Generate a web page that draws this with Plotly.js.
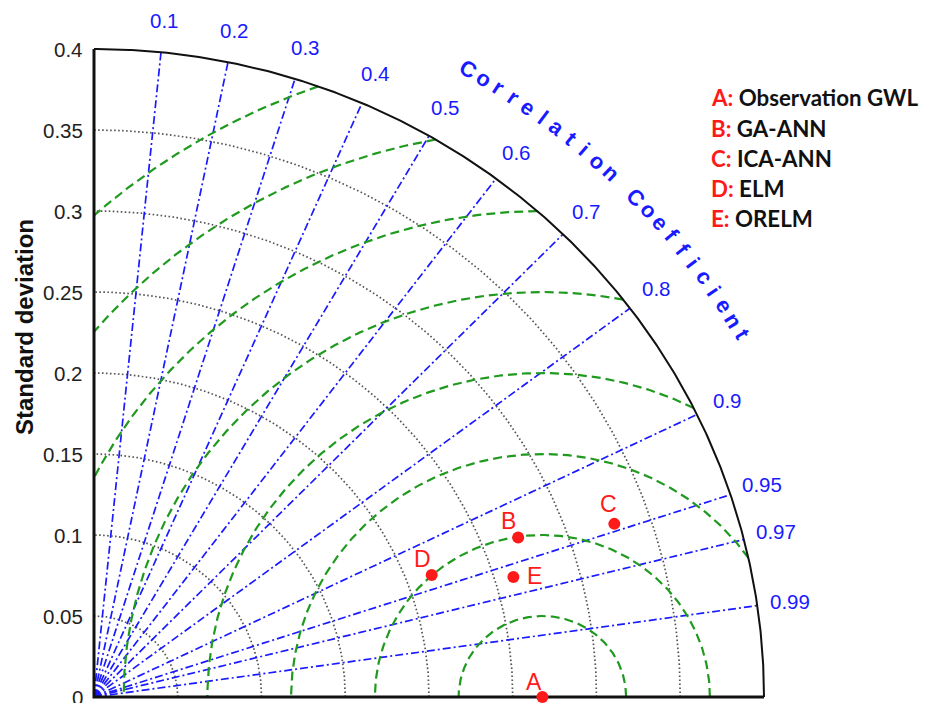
<!DOCTYPE html>
<html><head><meta charset="utf-8">
<script src="https://cdn.plot.ly/plotly-3.0.1.min.js"></script>
<style>html,body{margin:0;padding:0;background:#fff}#chart{width:931px;height:703px}</style>
</head><body><div id="chart"></div>
<script>
// ---------------- data ----------------
const pointLabels = ['A', 'B', 'C', 'D', 'E'];
const modelNames = ['Observation GWL', 'GA-ANN', 'ICA-ANN', 'ELM', 'ORELM'];
const stdDev = [0.2677, 0.2717, 0.3285, 0.2152, 0.2611];
const corrCoef = [1.0, 0.932, 0.9456, 0.9368, 0.9589];
const stdTicks = [0, 0.05, 0.1, 0.15, 0.2, 0.25, 0.3, 0.35, 0.4];
const stdTickText = ['0', '0.05', '0.1', '0.15', '0.2', '0.25', '0.3', '0.35', '0.4'];
const stdGrid = [0.05, 0.1, 0.15, 0.2, 0.25, 0.3, 0.35];
const rmsGrid = [0.05, 0.1, 0.15, 0.2, 0.25, 0.3, 0.35, 0.4];
const corrTicks = [0.1, 0.2, 0.3, 0.4, 0.5, 0.6, 0.7, 0.8, 0.9, 0.95, 0.97, 0.99];
const corrTickText = ['0.1', '0.2', '0.3', '0.4', '0.5', '0.6', '0.7', '0.8', '0.9', '0.95', '0.97', '0.99'];
const maxStd = 0.4;
const arcTitle = 'Correlation Coefficient';
const yTitle = 'Standard deviation';

// ---------------- geometry / style ----------------
const O = {x: 94, y: 697, sx: 1675, sy: 1620};   // origin pixel & px per unit
const M = {l: 70, r: 140, t: 20, b: 1};
const W = 931, H = 703;
const toX = px => (px - O.x) / O.sx;
const toY = py => (O.y - py) / O.sy;
const xr = [toX(M.l), toX(W - M.r)];
const yr = [toY(H - M.b), toY(M.t)];
const deg = Math.PI / 180;
const labelShift = {A: [-8, 15], B: [-10, 16], C: [-6, 20], D: [-9, 16], E: [21, 1]};
const BLUE = '#1a1aff', GREEN = '#1f9a1f', RED = '#ff1a1a';
const SANS = 'Liberation Sans, Arial, sans-serif';

// polar -> cartesian helpers
const px = (r, c) => r * c;
const py = (r, c) => r * Math.sqrt(Math.max(0, 1 - c * c));

const traces = [];

// std (dotted) arcs
(function () {
  const x = [], y = [];
  stdGrid.forEach(s => {
    for (let a = 0; a <= 90; a += 0.5) { x.push(s * Math.cos(a * deg)); y.push(s * Math.sin(a * deg)); }
    x.push(null); y.push(null);
  });
  traces.push({x, y, mode: 'lines', hoverinfo: 'skip',
    line: {color: '#555', width: 1.7, dash: '1.6px,2.4px'}});
})();

// correlation (dash-dot) rays
(function () {
  const x = [], y = [];
  corrTicks.forEach(c => { x.push(0, px(maxStd, c), null); y.push(0, py(maxStd, c), null); });
  traces.push({x, y, mode: 'lines', hoverinfo: 'skip',
    line: {color: BLUE, width: 1.7, dash: '8px,3px,2px,3px'}});
})();

// centered RMS (dashed) arcs around the observation
(function () {
  const a = stdDev[0];
  const x = [], y = [];
  rmsGrid.forEach(r => {
    let c0 = (maxStd * maxStd - a * a - r * r) / (2 * a * r);
    c0 = Math.max(-1, Math.min(1, c0));
    const t0 = Math.acos(c0);
    const t1 = Math.acos(Math.max(-1, -a / r));
    const n = 300;
    for (let i = 0; i <= n; i++) {
      const t = t0 + (t1 - t0) * i / n;
      x.push(a + r * Math.cos(t)); y.push(r * Math.sin(t));
    }
    x.push(null); y.push(null);
  });
  traces.push({x, y, mode: 'lines', hoverinfo: 'skip',
    line: {color: GREEN, width: 2.2, dash: '9px,5px'}});
})();

// outer arc
(function () {
  const x = [], y = [];
  for (let a = 0; a <= 90; a += 0.25) { x.push(maxStd * Math.cos(a * deg)); y.push(maxStd * Math.sin(a * deg)); }
  traces.push({x, y, mode: 'lines', hoverinfo: 'skip', line: {color: '#111', width: 2}});
})();

// axes lines
traces.push({x: [0, 0, maxStd], y: [maxStd, 0, 0], mode: 'lines', hoverinfo: 'skip',
  line: {color: '#111', width: 3}});

// model points
traces.push({
  x: stdDev.map((s, i) => px(s, corrCoef[i])),
  y: stdDev.map((s, i) => py(s, corrCoef[i])),
  mode: 'markers', cliponaxis: false, text: modelNames,
  marker: {color: RED, size: 12}
});

// ---------------- annotations ----------------
const ann = [];
const base = {showarrow: false, xref: 'x', yref: 'y'};

// point labels
pointLabels.forEach((L, i) => {
  ann.push(Object.assign({}, base, {
    x: px(stdDev[i], corrCoef[i]), y: py(stdDev[i], corrCoef[i]),
    text: L, xshift: labelShift[L][0], yshift: labelShift[L][1],
    font: {family: SANS, size: 23, color: RED}
  }));
});

// std tick labels
stdTicks.forEach((v, i) => {
  ann.push(Object.assign({}, base, {
    x: 0, y: v, text: stdTickText[i], xanchor: 'right', yanchor: 'middle', xshift: -9,
    font: {family: SANS, size: 20.5, color: '#222'}
  }));
});

// correlation tick labels
corrTicks.forEach((c, i) => {
  ann.push(Object.assign({}, base, {
    x: px(0.42, c), y: py(0.42, c), text: corrTickText[i],
    xanchor: 'center', yanchor: 'middle',
    font: {family: SANS, size: 20.5, color: BLUE}
  }));
});

// curved title
(function () {
  const chars = arcTitle.split('');
  const a0 = 60, a1 = 30, r = 0.447;
  chars.forEach((ch, i) => {
    if (ch === ' ') return;
    const phi = a0 - (a0 - a1) * i / (chars.length - 1);
    ann.push(Object.assign({}, base, {
      x: r * Math.cos(phi * deg), y: r * Math.sin(phi * deg), text: '<b>' + ch + '</b>',
      textangle: 90 - phi, xanchor: 'center', yanchor: 'middle',
      font: {family: SANS, size: 22, color: BLUE}
    }));
  });
})();

// y title
ann.push(Object.assign({}, base, {
  x: 0, y: toY(327), xshift: 24 - O.x, text: '<b>' + yTitle + '</b>', textangle: -90,
  xanchor: 'center', yanchor: 'middle',
  font: {family: SANS, size: 24, color: '#111'}
}));

// legend text
const legendY = [97, 128, 158, 188, 218];
pointLabels.forEach((L, i) => {
  ann.push(Object.assign({}, base, {
    x: toX(709), y: toY(legendY[i]), xanchor: 'left', yanchor: 'middle',
    text: '<b><span style="color:' + RED + '">' + L + ':</span> ' + modelNames[i] + '</b>',
    font: {family: 'Lato, Noto Sans, sans-serif', size: 22.3, color: '#111'}
  }));
});

const layout = {
  width: W, height: H,
  margin: M,
  paper_bgcolor: '#fff', plot_bgcolor: '#fff',
  showlegend: false,
  xaxis: {range: xr, visible: false, fixedrange: true},
  yaxis: {range: yr, visible: false, fixedrange: true},
  annotations: ann
};

Plotly.newPlot('chart', traces, layout, {staticPlot: true, displayModeBar: false});
</script>
</body></html>
